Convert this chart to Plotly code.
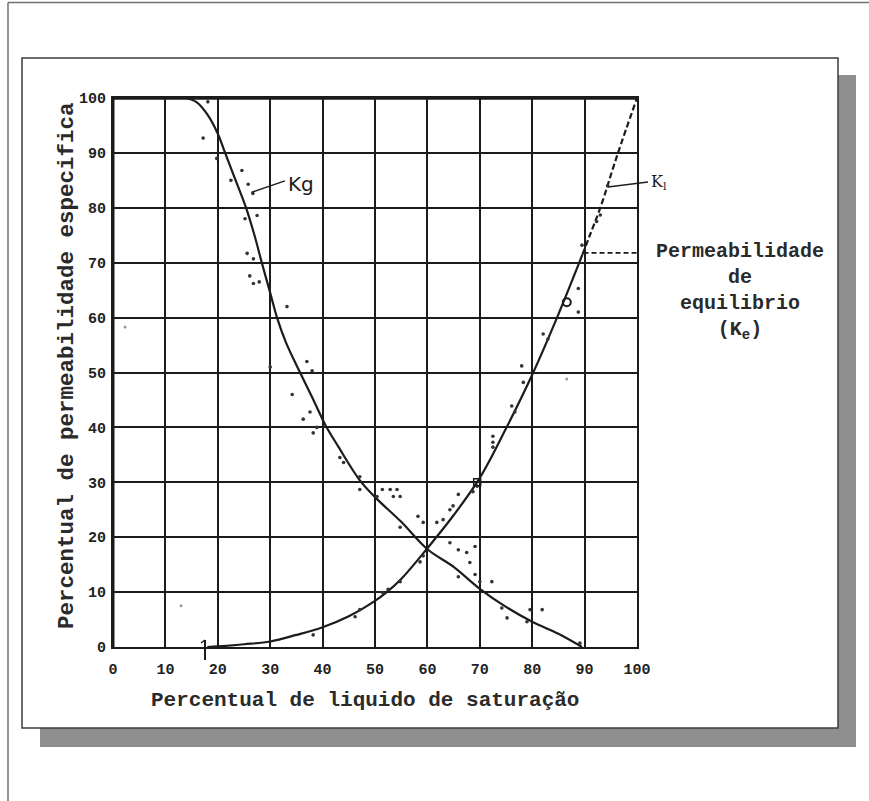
import plotly.graph_objects as go

W, H = 869, 801

# Relative permeability curves (percent) against liquid saturation (percent)
kg_x = [14, 16, 18, 20, 21.4, 23, 25.4, 27, 28.4, 30, 31.3, 33, 35.7, 38, 40.5, 43, 47, 50,
        55, 60, 65, 70, 75, 80, 85, 89.5]
kg_y = [100, 99.2, 97, 93.5, 90, 86, 80, 75, 70, 64.5, 60, 55.5, 50, 45.5, 40.5, 36.5, 30.5, 27.3,
        22.8, 17.8, 14.6, 10.6, 7.3, 4.6, 2.4, 0]

kl_x = [18, 20, 25, 30, 35, 40, 45, 50, 52, 55, 60, 65, 70, 75, 80, 85, 89.6]
kl_y = [0, 0.1, 0.5, 1.0, 2.2, 3.6, 5.6, 8.4, 9.8, 12.4, 18, 24, 30.8, 39.8, 49.6, 60.6, 71.5]

# extrapolated part of the liquid curve
kl_ext_x = [89.6, 91, 93, 96.2, 100]
kl_ext_y = [71.5, 75, 80, 89.5, 100]

# measured points
kg_pts_x = [18.1, 17.2, 19.8, 22.5, 24.6, 25.8, 26.7, 25.2, 27.5, 25.6, 26.8, 26.1, 26.8, 27.9,
            33.2, 30.0, 37.0, 38.0, 34.2, 36.3, 37.6, 38.2, 38.9, 43.3, 44.0, 47.1, 47.1, 50.4,
            51.4, 52.9, 54.2, 53.5, 54.8, 54.8, 58.2, 59.2, 64.3, 65.9, 67.5, 69.1, 68.1, 65.9,
            69.1, 70.0, 72.3, 74.2, 75.2, 79.0, 79.6, 81.9, 89.1]
kg_pts_y = [99.3, 92.7, 89.0, 85.0, 86.8, 84.3, 82.6, 78.0, 78.6, 71.7, 70.7, 67.6, 66.2, 66.5,
            62.0, 51.0, 52.0, 50.3, 46.0, 41.5, 42.8, 39.0, 40.0, 34.5, 33.6, 31.0, 28.7, 27.4,
            28.7, 28.7, 28.7, 27.4, 27.4, 21.8, 23.8, 22.7, 19.0, 17.7, 17.2, 18.3, 15.4, 12.8,
            13.2, 11.9, 11.9, 7.1, 5.3, 4.6, 6.8, 6.8, 0.7]

kl_pts_x = [38.2, 46.2, 47.1, 51.5, 52.5, 54.8, 58.6, 59.2, 61.8, 63.0, 64.3, 64.9, 65.9, 68.7,
            69.5, 72.5, 72.5, 72.5, 76.1, 76.7, 78.0, 78.3, 82.1, 83.0, 88.8, 88.8, 89.5, 92.3,
            93.0, 94.4]
kl_pts_y = [2.2, 5.5, 6.8, 9.9, 10.5, 11.9, 15.5, 16.6, 22.7, 23.2, 25.0, 25.7, 27.8, 28.3,
            29.3, 36.4, 37.3, 38.4, 43.9, 42.8, 51.2, 48.2, 57.0, 56.1, 65.3, 61.0, 73.2, 77.5,
            78.7, 84.0]

stray_x = [13.0, 2.3, 86.6]
stray_y = [7.5, 58.3, 48.8]

circle_pt = (86.6, 62.8)
square_pt = (69.5, 30.0)

equil_y = 71.8

ticks = [0, 10, 20, 30, 40, 50, 60, 70, 80, 90, 100]

# plot area in pixels
PX0, PX1, PYT, PYB = 113, 637, 98, 647


def px(x):
    return x / W


def py(y):
    return 1 - y / H


INK = "#1c1c1c"
MONO = "Liberation Mono"

fig = go.Figure()

fig.add_trace(go.Scatter(x=kg_x, y=kg_y, mode="lines", line=dict(color=INK, width=2.2, shape="spline"),
                         hoverinfo="skip"))
fig.add_trace(go.Scatter(x=kl_x, y=kl_y, mode="lines", line=dict(color=INK, width=2.2, shape="spline"),
                         hoverinfo="skip"))
fig.add_trace(go.Scatter(x=kl_ext_x, y=kl_ext_y, mode="lines",
                         line=dict(color=INK, width=2.2, dash="6px,3px", shape="spline"), hoverinfo="skip"))

dot = dict(symbol="circle", size=3.6, color="#333333")
fig.add_trace(go.Scatter(x=kg_pts_x, y=kg_pts_y, mode="markers", marker=dot))
fig.add_trace(go.Scatter(x=kl_pts_x, y=kl_pts_y, mode="markers", marker=dot))
fig.add_trace(go.Scatter(x=stray_x, y=stray_y, mode="markers",
                         marker=dict(symbol="circle", size=3, color="#9a9a9a")))
fig.add_trace(go.Scatter(x=[circle_pt[0]], y=[circle_pt[1]], mode="markers",
                         marker=dict(symbol="circle-open", size=8, color=INK, line=dict(width=2))))
fig.add_trace(go.Scatter(x=[square_pt[0]], y=[square_pt[1]], mode="markers",
                         marker=dict(symbol="square-open", size=7, color=INK, line=dict(width=1.5))))

shapes = [
    # outer page frame (its right and bottom edges fall outside the page)
    dict(type="line", xref="paper", yref="paper", x0=px(8), y0=py(2.5), x1=1, y1=py(2.5),
         line=dict(color="#707070", width=1.5), layer="below"),
    dict(type="line", xref="paper", yref="paper", x0=px(8), y0=py(2.5), x1=px(8), y1=0,
         line=dict(color="#707070", width=1.5), layer="below"),
    # drop shadow of the panel
    dict(type="rect", xref="paper", yref="paper", x0=px(40), y0=py(75), x1=px(856), y1=py(747),
         line=dict(width=0), fillcolor="#8e8e8e", layer="below"),
    # panel
    dict(type="rect", xref="paper", yref="paper", x0=px(22), y0=py(58), x1=px(838), y1=py(728),
         line=dict(color="#3c3c3c", width=1.5), fillcolor="white", layer="below"),
    # heavy top and left border of the grid
    dict(type="line", xref="x", yref="y", x0=0, y0=100, x1=100, y1=100, line=dict(color=INK, width=3.5)),
    dict(type="line", xref="x", yref="y", x0=0, y0=0, x1=0, y1=100, line=dict(color=INK, width=3)),
    # equilibrium permeability marker
    dict(type="line", xref="x", yref="y", x0=89.8, y0=equil_y, x1=100, y1=equil_y,
         line=dict(color=INK, width=1.8, dash="5px,3px")),
    # leaders for the curve labels
    dict(type="line", xref="x", yref="y", x0=26.4, y0=82.8, x1=32.8, y1=84.9, line=dict(color=INK, width=1.5)),
    dict(type="line", xref="paper", yref="paper", x0=px(608), y0=py(187), x1=px(648), y1=py(182),
         line=dict(color=INK, width=1.5)),
    # small saturation mark on the abscissa
    dict(type="line", xref="paper", yref="paper", x0=px(205), y0=py(640), x1=px(205), y1=py(660),
         line=dict(color=INK, width=2)),
    dict(type="line", xref="paper", yref="paper", x0=px(201), y0=py(643), x1=px(205), y1=py(640),
         line=dict(color=INK, width=1.5)),
]

annotations = [
    dict(xref="paper", yref="paper", x=px(365), y=py(700), text="<b>Percentual de liquido de saturação</b>",
         showarrow=False, font=dict(family=MONO, size=21, color="#2a2a2a"), xanchor="center", yanchor="middle"),
    dict(xref="paper", yref="paper", x=px(67), y=py(366), text="<b>Percentual de permeabilidade especifica</b>",
         showarrow=False, textangle=-90, font=dict(family=MONO, size=22.5, color="#2a2a2a"),
         xanchor="center", yanchor="middle"),
    dict(xref="paper", yref="paper", x=px(301), y=py(184), text="Kg", showarrow=False,
         font=dict(family="DejaVu Sans", size=20, color=INK), xanchor="center", yanchor="middle"),
    dict(xref="paper", yref="paper", x=px(659), y=py(182), text="K<sub>l</sub>", showarrow=False,
         font=dict(family="DejaVu Serif", size=16, color=INK), xanchor="center", yanchor="middle"),
    dict(xref="paper", yref="paper", x=px(740), y=py(291),
         text="<b>Permeabilidade<br>de<br>equilibrio<br>(K<sub>e</sub>)</b>",
         showarrow=False, align="center", font=dict(family=MONO, size=20, color="#2a2a2a"),
         xanchor="center", yanchor="middle"),
]

axis_common = dict(
    range=[0, 100], tickvals=ticks, ticktext=[str(t) for t in ticks],
    showgrid=True, gridcolor=INK, gridwidth=2, zeroline=False, automargin=False,
    showline=True, linecolor=INK, linewidth=2, mirror=True, ticks="",
    tickfont=dict(family=MONO, size=15, color="#222222", weight="bold"),
)

fig.update_layout(
    width=W, height=H,
    margin=dict(l=0, r=0, t=0, b=0, autoexpand=False),
    paper_bgcolor="white", plot_bgcolor="rgba(0,0,0,0)",
    showlegend=False,
    xaxis=dict(domain=[PX0 / W, PX1 / W], ticklabelstandoff=7, **axis_common),
    yaxis=dict(domain=[1 - PYB / H, 1 - PYT / H], ticklabelstandoff=2, **axis_common),
    shapes=shapes, annotations=annotations,
)

fig.write_html("out.html")
